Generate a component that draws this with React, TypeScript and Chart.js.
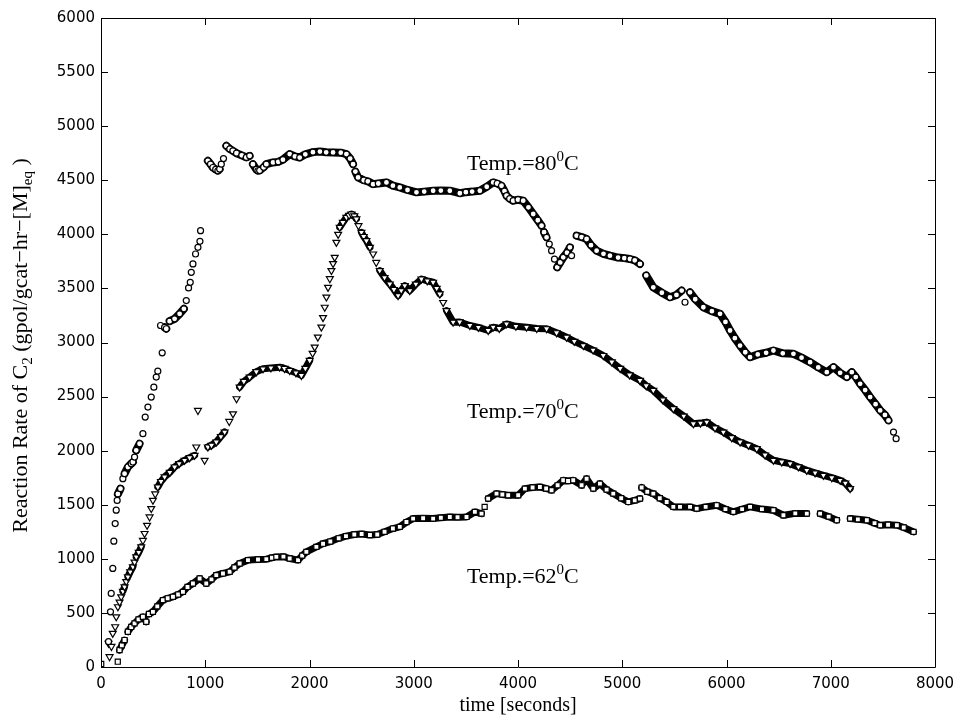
import React, { useEffect, useRef } from 'react';
import { Chart, registerables } from 'chart.js';

Chart.register(...registerables);

// ---- Temp. = 80 C (open circles) ----
const t80 = [72, 91, 98, 113, 123, 136, 146, 155, 162, 187, 210, 226, 258, 290, 306, 322, 338, 370, 402, 424, 450, 482, 507, 530, 545, 571, 587, 610, 626, 658, 706, 754, 795, 818, 840, 856, 866, 882, 907, 930, 949, 955,
  1025, 1050, 1073, 1100, 1121, 1138, 1154, 1175, 1202, 1235, 1265, 1300, 1350, 1394, 1426, 1457, 1490, 1505, 1522, 1560, 1586, 1650, 1700, 1745, 1810, 1860, 1906, 1960, 2033, 2100, 2160, 2226, 2300, 2354, 2390, 2418, 2440, 2466, 2520, 2560, 2610, 2660, 2738, 2800, 2866, 2940, 3026, 3100, 3186, 3260, 3346, 3442, 3500, 3560, 3634, 3700, 3762, 3800, 3842, 3870, 3890, 3920, 3954, 4000, 4050, 4100, 4146, 4190, 4226, 4250, 4274, 4300, 4322, 4350, 4376, 4405, 4434, 4470, 4498, 4514, 4562, 4610, 4658, 4700, 4754, 4820, 4882, 4960, 5020, 5074, 5120, 5170, 5230, 5298, 5380, 5458, 5520, 5570, 5602, 5650, 5700, 5778, 5860, 5938, 5990, 6034, 6080, 6130, 6180, 6226, 6300, 6380, 6450, 6540, 6642, 6720, 6802, 6880, 6962, 7026, 7090, 7154, 7202, 7240, 7282, 7330, 7378, 7430, 7474, 7520, 7554, 7602, 7627];
const r80 = [234, 510, 680, 911, 1163, 1326, 1450, 1540, 1600, 1649, 1741, 1787, 1849, 1880, 1895, 1941, 2003, 2064, 2157, 2311, 2403, 2495, 2587, 2680, 2735, 3157, 2905, 3140, 3127, 3197, 3219, 3265, 3311, 3388, 3505, 3556, 3649, 3726, 3818, 3880, 3935, 4034,
  4680, 4650, 4618, 4600, 4588, 4603, 4649, 4700, 4818, 4790, 4772, 4750, 4730, 4711, 4726, 4649, 4600, 4588, 4590, 4620, 4649, 4665, 4670, 4690, 4742, 4720, 4710, 4740, 4760, 4765, 4758, 4757, 4755, 4742, 4700, 4649, 4580, 4526, 4500, 4490, 4464, 4470, 4480, 4450, 4434, 4410, 4388, 4395, 4403, 4405, 4403, 4380, 4390, 4395, 4403, 4440, 4480, 4470, 4449, 4400, 4357, 4330, 4311, 4320, 4311, 4250, 4188, 4130, 4080, 4020, 3972, 3910, 3849, 3770, 3695, 3740, 3787, 3830, 3880, 3803, 3988, 3975, 3957, 3900, 3849, 3820, 3803, 3785, 3780, 3772, 3760, 3726, 3620, 3510, 3460, 3418, 3440, 3480, 3372, 3464, 3400, 3326, 3290, 3265, 3190, 3111, 3040, 2972, 2910, 2864, 2890, 2905, 2926, 2900, 2895, 2860, 2818, 2770, 2726, 2772, 2720, 2680, 2726, 2680, 2618, 2560, 2495, 2430, 2372, 2330, 2280, 2172, 2111];

// ---- Temp. = 70 C (down triangles) ----
const t70 = [72, 82, 100, 113, 136, 146, 162, 178, 194, 210, 226, 242, 258, 280, 306, 322, 338, 362, 386, 402, 418, 442, 466, 482, 498, 520, 545, 575, 610, 660, 706, 750, 802, 850, 898, 914, 930, 994, 1025, 1060, 1106, 1150, 1186, 1230, 1266, 1300, 1330, 1370, 1426, 1490, 1554, 1630, 1714, 1760, 1810, 1870, 1922, 1960, 2002, 2030, 2050, 2080, 2114, 2130, 2146, 2162, 2178, 2195, 2210, 2226, 2242, 2258, 2275, 2290, 2320, 2354, 2380, 2402, 2430, 2450, 2470, 2498, 2520, 2546, 2580, 2610, 2640, 2674, 2720, 2770, 2810, 2850, 2880, 2914, 2962, 3020, 3074, 3130, 3186, 3220, 3250, 3282, 3314, 3378, 3440, 3538, 3620, 3714, 3762, 3820, 3890, 3980, 4082, 4180, 4274, 4370, 4466, 4540, 4626, 4720, 4818, 4900, 4980, 5070, 5170, 5230, 5298, 5390, 5490, 5590, 5682, 5750, 5810, 5890, 5970, 6050, 6130, 6210, 6290, 6370, 6450, 6530, 6610, 6690, 6770, 6850, 6930, 7010, 7090, 7140, 7186];
const r70 = [219, 95, 190, 311, 372, 464, 557, 600, 649, 700, 741, 790, 834, 880, 926, 970, 1018, 1060, 1111, 1170, 1234, 1310, 1387, 1465, 1541, 1600, 1664, 1715, 1757, 1800, 1849, 1880, 1911, 1935, 1957, 2034, 2372, 1911, 2034, 2050, 2080, 2130, 2172, 2270, 2341, 2480, 2587, 2640, 2680, 2730, 2757, 2765, 2772, 2760, 2741, 2720, 2695, 2760, 2834, 2900, 2957, 3050, 3142, 3230, 3326, 3420, 3510, 3590, 3665, 3730, 3787, 3926, 4000, 4065, 4110, 4157, 4175, 4188, 4170, 4142, 4080, 4018, 3980, 3941, 3880, 3818, 3740, 3665, 3600, 3541, 3490, 3433, 3480, 3526, 3480, 3540, 3587, 3570, 3557, 3500, 3449, 3370, 3295, 3188, 3190, 3157, 3140, 3111, 3142, 3130, 3172, 3150, 3142, 3130, 3127, 3090, 3049, 3010, 2972, 2930, 2880, 2820, 2760, 2700, 2649, 2600, 2557, 2470, 2388, 2320, 2249, 2255, 2264, 2210, 2172, 2120, 2080, 2050, 2018, 1960, 1911, 1895, 1880, 1850, 1818, 1795, 1772, 1750, 1726, 1700, 1649];

// ---- Temp. = 62 C (open squares) ----
const t62 = [2, 161, 178, 200, 226, 258, 290, 322, 360, 402, 434, 460, 498, 540, 594, 640, 690, 740, 786, 830, 882, 946, 1010, 1060, 1106, 1170, 1234, 1280, 1330, 1410, 1506, 1586, 1640, 1682, 1750, 1810, 1890, 1930, 1970, 2066, 2130, 2200, 2280, 2350, 2430, 2500, 2580, 2650, 2720, 2800, 2866, 2930, 2994, 3090, 3186, 3260, 3346, 3420, 3506, 3586, 3650, 3680, 3714, 3794, 3850, 3906, 4002, 4066, 4140, 4210, 4270, 4322, 4380, 4434, 4480, 4530, 4610, 4658, 4722, 4786, 4850, 4914, 4990, 5058, 5120, 5170, 5186, 5240, 5298, 5360, 5426, 5490, 5554, 5650, 5714, 5800, 5906, 5990, 6066, 6150, 6226, 6340, 6450, 6546, 6660, 6770, 6898, 6980, 7058, 7186, 7260, 7346, 7420, 7474, 7550, 7634, 7700, 7794];
const r62 = [28, 49, 157, 200, 249, 326, 370, 403, 440, 464, 418, 490, 510, 560, 618, 635, 649, 670, 695, 740, 772, 818, 772, 810, 849, 865, 880, 920, 957, 988, 994, 997, 1010, 1018, 1020, 1003, 988, 1030, 1064, 1111, 1140, 1160, 1190, 1210, 1225, 1230, 1220, 1225, 1250, 1280, 1295, 1340, 1372, 1375, 1372, 1380, 1387, 1385, 1387, 1434, 1418, 1480, 1557, 1603, 1595, 1588, 1588, 1649, 1660, 1664, 1650, 1634, 1680, 1726, 1720, 1726, 1680, 1741, 1649, 1695, 1640, 1603, 1560, 1526, 1540, 1557, 1659, 1620, 1603, 1560, 1526, 1480, 1480, 1480, 1464, 1480, 1495, 1460, 1434, 1460, 1480, 1460, 1449, 1403, 1420, 1418, 1418, 1390, 1357, 1372, 1365, 1357, 1330, 1311, 1315, 1311, 1290, 1249];

// ---- Axes ----
const xTicks = [0, 1000, 2000, 3000, 4000, 5000, 6000, 7000, 8000];
const yTicks = [0, 500, 1000, 1500, 2000, 2500, 3000, 3500, 4000, 4500, 5000, 5500, 6000];

// ---- Annotations ----
const tempNames = ['80', '70', '62'];
const tempAtX = [3510, 3510, 3510];
const tempAtY = [4597, 2298, 775];

const SERIF = '"Liberation Serif", "Times New Roman", serif';
const SANS = '"DejaVu Sans", sans-serif';

type Part = [string, number, number];

function partsWidth(ctx: CanvasRenderingContext2D, parts: Part[]) {
  let w = 0;
  for (const p of parts) {
    ctx.font = `${p[1]}px ${SERIF}`;
    w += ctx.measureText(p[0]).width;
  }
  return w;
}

function drawParts(ctx: CanvasRenderingContext2D, parts: Part[], x: number, y: number, center: boolean) {
  let cx = center ? x - partsWidth(ctx, parts) / 2 : x;
  ctx.textAlign = 'left';
  ctx.textBaseline = 'alphabetic';
  for (const p of parts) {
    ctx.font = `${p[1]}px ${SERIF}`;
    ctx.fillText(p[0], cx, y + p[2]);
    cx += ctx.measureText(p[0]).width;
  }
}

const framePlugin = {
  id: 'frame',
  afterDraw(chart: any) {
    const { ctx, chartArea: a, scales } = chart;
    const xs = scales.x;
    const ys = scales.y;
    ctx.save();
    ctx.strokeStyle = '#000';
    ctx.lineWidth = 1;
    ctx.beginPath();
    ctx.rect(Math.round(a.left) + 0.5, Math.round(a.top) + 0.5, Math.round(a.right - a.left), Math.round(a.bottom - a.top));
    ctx.stroke();
    const L = 7;
    ctx.beginPath();
    for (const v of xTicks) {
      const px = Math.round(xs.getPixelForValue(v)) + 0.5;
      ctx.moveTo(px, a.bottom);
      ctx.lineTo(px, a.bottom - L);
      ctx.moveTo(px, a.top);
      ctx.lineTo(px, a.top + L);
    }
    for (const v of yTicks) {
      const py = Math.round(ys.getPixelForValue(v)) + 0.5;
      ctx.moveTo(a.left, py);
      ctx.lineTo(a.left + L, py);
      ctx.moveTo(a.right, py);
      ctx.lineTo(a.right - L, py);
    }
    ctx.stroke();

    ctx.fillStyle = '#000';
    for (let i = 0; i < tempNames.length; i++) {
      const px = xs.getPixelForValue(tempAtX[i]);
      const py = ys.getPixelForValue(tempAtY[i]);
      drawParts(ctx, [['Temp.=' + tempNames[i], 22, 0], ['0', 15, -9], ['C', 22, 0]], px, py, false);
    }
    drawParts(ctx, [['time [seconds]', 20, 0]], (a.left + a.right) / 2, 711, true);
    ctx.save();
    ctx.translate(27, (a.top + a.bottom) / 2 + 3);
    ctx.rotate(-Math.PI / 2);
    drawParts(ctx, [
      ['Reaction Rate of C', 22, 0],
      ['2', 15, 5],
      [' (gpol/gcat\u2212hr\u2212[M]', 22, 0],
      ['eq', 15, 5],
      [' )', 22, 0],
    ], 0, 0, true);
    ctx.restore();
    ctx.restore();
  },
};

function segColor(c: any) {
  const dx = Math.abs(c.p1.x - c.p0.x);
  const dy = Math.abs(c.p1.y - c.p0.y);
  return dx <= 12 && dy <= 1.5 * dx + 2 ? '#000' : 'rgba(0,0,0,0)';
}

function series(ts: number[], rs: number[], style: string, radius: number, rotation: number, width: number) {
  return {
    data: ts.map((t, i) => ({ x: t, y: rs[i] })),
    showLine: true,
    borderColor: '#000',
    borderWidth: width,
    borderJoinStyle: 'round',
    borderCapStyle: 'round',
    segment: { borderColor: segColor },
    pointStyle: style,
    pointRotation: rotation,
    pointRadius: radius,
    pointBorderWidth: 1.2,
    pointBorderColor: '#000',
    pointBackgroundColor: '#fff',
  };
}

const tickText = (v: any) => String(v);

export default function App() {
  const ref = useRef<HTMLCanvasElement | null>(null);
  useEffect(() => {
    if (!ref.current) return;
    const chart = new Chart(ref.current, {
      type: 'scatter',
      data: {
        datasets: [
          series(t80, r80, 'circle', 3, 0, 8),
          series(t70, r70, 'triangle', 4, 180, 7),
          series(t62, r62, 'rect', 3.6, 0, 7),
        ] as any,
      },
      options: {
        responsive: false,
        animation: false,
        events: [],
        layout: { padding: { left: 0, top: 18, right: 24, bottom: 0 } },
        plugins: { legend: { display: false }, tooltip: { enabled: false } },
        scales: {
          x: {
            type: 'linear',
            min: 0,
            max: 8000,
            afterFit: (s: any) => { s.height = 52; s.paddingLeft = 0; s.paddingRight = 0; },
            afterBuildTicks: (s: any) => { s.ticks = xTicks.map((v) => ({ value: v })); },
            ticks: { color: '#000', font: { family: SANS, size: 15 }, padding: 8, maxRotation: 0, autoSkip: false, callback: tickText },
            grid: { display: false, drawTicks: false },
            border: { display: false },
          },
          y: {
            type: 'linear',
            min: 0,
            max: 6000,
            afterFit: (s: any) => { s.width = 101; s.paddingTop = 0; s.paddingBottom = 0; },
            afterBuildTicks: (s: any) => { s.ticks = yTicks.map((v) => ({ value: v })); },
            ticks: { color: '#000', font: { family: SANS, size: 15 }, padding: 6, autoSkip: false, callback: tickText },
            grid: { display: false, drawTicks: false },
            border: { display: false },
          },
        },
      } as any,
      plugins: [framePlugin],
    });
    return () => chart.destroy();
  }, []);
  return (
    <div style={{ position: 'fixed', left: 0, top: 0, width: 959, height: 719, background: '#fff' }}>
      <canvas ref={ref} width={959} height={719} style={{ display: 'block' }} />
    </div>
  );
}
